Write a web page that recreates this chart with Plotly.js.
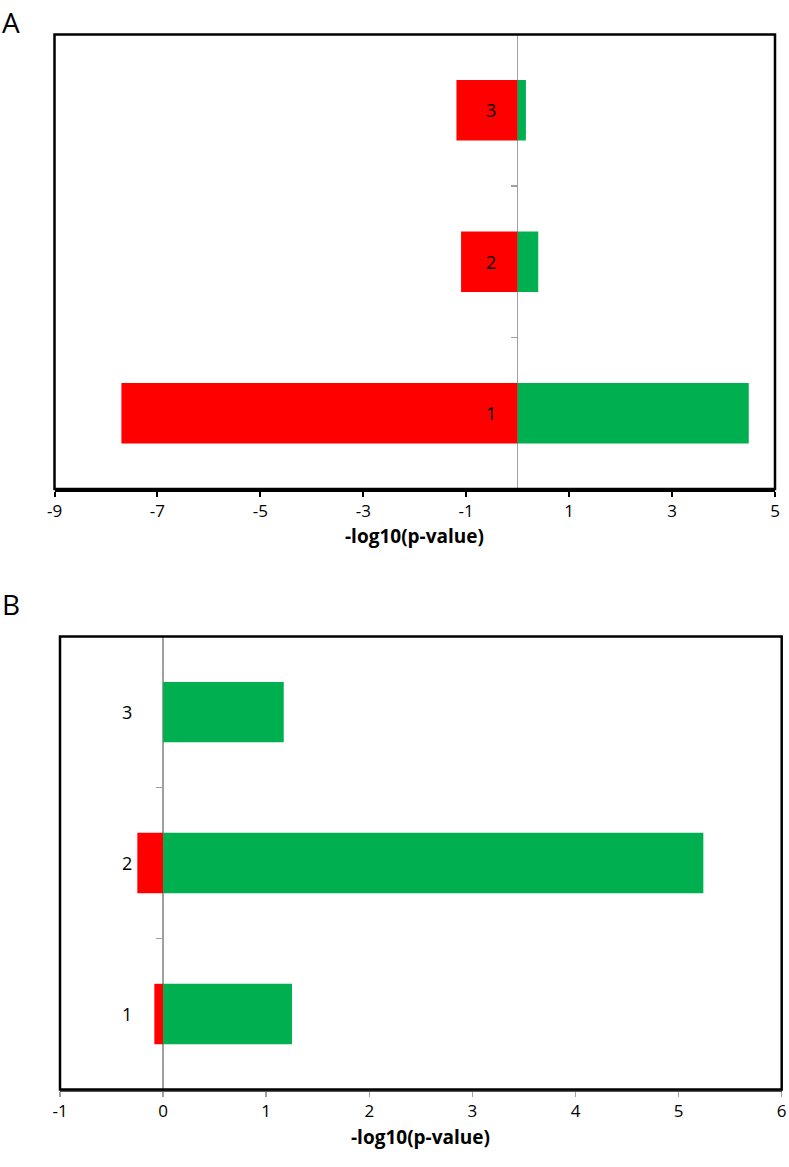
<!DOCTYPE html>
<html><head><meta charset="utf-8">
<script src="https://cdn.plot.ly/plotly-3.0.1.min.js"></script>
<style>html,body{margin:0;padding:0;background:#fff}#chart{width:789px;height:1167px}</style>
</head><body><div id="chart"></div>
<script>
// Data
const categories = ['1', '2', '3'];
const aNegative = [-7.7, -1.1, -1.19];
const aPositive = [4.49, 0.4, 0.16];
const bNegative = [-0.085, -0.25, 0];
const bPositive = [1.25, 5.24, 1.17];
const aTicks = [-9, -7, -5, -3, -1, 1, 3, 5];
const bTicks = [-1, 0, 1, 2, 3, 4, 5, 6];
const xTitle = '-log10(p-value)';
const panelLabels = ['A', 'B'];

const RED = '#FF0000', GREEN = '#00B050', GRAY = '#A0A0A0';
const FONT = '"Open Sans", "Liberation Sans", sans-serif';
const W = 789, H = 1167;

const aRange = [-9, 5], bRange = [-1, 6];
const aDom = {x: [54.5 / W, 775 / W], y: [1 - 489 / H, 1 - 34.5 / H]};
const bDom = {x: [60 / W, 781.7 / W], y: [1 - 1089.5 / H, 1 - 636.6 / H]};
function zeroPos(dom, r) { return dom.x[0] + (0 - r[0]) / (r[1] - r[0]) * (dom.x[1] - dom.x[0]); }

const bar = (x, color, xa, ya) => ({
  type: 'bar', orientation: 'h', y: categories, x: x, width: 0.4,
  marker: {color: color, line: {width: 0}}, xaxis: xa, yaxis: ya,
  showlegend: false, hoverinfo: 'x'
});

const traces = [
  bar(aNegative, RED, 'x', 'y'),
  bar(aPositive, GREEN, 'x', 'y'),
  bar(bNegative, RED, 'x2', 'y2'),
  bar(bPositive, GREEN, 'x2', 'y2')
];

const tickFont = {family: FONT, size: 17, color: '#000'};
const titleFont = {family: FONT, size: 19, color: '#000', weight: 'bold'};

const catLabels = (xa, ya, shift) => categories.map((c, i) => ({
  text: c, xref: xa, yref: ya, x: 0, y: i, xanchor: 'right', yanchor: 'middle',
  xshift: shift, showarrow: false, font: {family: FONT, size: 18, color: '#000'}
}));
const axisTitle = (xa, ya, shift) => ({
  text: xTitle, xref: xa + ' domain', yref: ya + ' domain', x: 0.5, y: 0,
  xanchor: 'center', yanchor: 'middle', yshift: shift, showarrow: false, font: titleFont
});

const layout = {
  width: W, height: H,
  margin: {l: 0, r: 0, t: 0, b: 0},
  paper_bgcolor: '#fff', plot_bgcolor: '#fff',
  barmode: 'relative',
  font: {family: FONT},
  xaxis: {
    domain: aDom.x, anchor: 'y', range: aRange, tickmode: 'array', tickvals: aTicks,
    ticktext: aTicks.map(String),
    showgrid: false, zeroline: true, zerolinecolor: GRAY, zerolinewidth: 1.5,
    showline: true, linecolor: '#000', linewidth: 2.5,
    ticks: 'outside', ticklen: 5, tickwidth: 2, tickcolor: '#000',
    tickfont: tickFont
  },
  yaxis: {
    domain: aDom.y, anchor: 'free', position: zeroPos(aDom, aRange),
    type: 'category', categoryorder: 'array', categoryarray: categories, range: [-0.5, 2.5],
    showgrid: false, zeroline: false, showline: false, showticklabels: false,
    ticks: 'outside', tickson: 'boundaries', ticklen: 7, tickwidth: 1.5, tickcolor: GRAY
  },
  xaxis2: {
    domain: bDom.x, anchor: 'y2', range: bRange, tickmode: 'array', tickvals: bTicks,
    ticktext: bTicks.map(String),
    showgrid: false, zeroline: true, zerolinecolor: GRAY, zerolinewidth: 1.5,
    showline: true, linecolor: '#555', linewidth: 2.5,
    ticks: 'outside', ticklen: 5, tickwidth: 1.5, tickcolor: GRAY,
    tickfont: tickFont
  },
  yaxis2: {
    domain: bDom.y, anchor: 'free', position: zeroPos(bDom, bRange),
    type: 'category', categoryorder: 'array', categoryarray: categories, range: [-0.5, 2.5],
    showgrid: false, zeroline: false, showline: false, showticklabels: false,
    ticks: 'outside', tickson: 'boundaries', ticklen: 7, tickwidth: 1.5, tickcolor: GRAY
  },
  shapes: [
    {type: 'rect', xref: 'x domain', yref: 'y domain', x0: 0, x1: 1, y0: 0, y1: 1,
     line: {color: '#000', width: 2.5}, layer: 'above'},
    {type: 'rect', xref: 'x2 domain', yref: 'y2 domain', x0: 0, x1: 1, y0: 0, y1: 1,
     line: {color: '#000', width: 2.5}, layer: 'above'}
  ],
  annotations: [
    {text: panelLabels[0], xref: 'paper', yref: 'paper', x: 0, y: 1 - 1 / H,
     xanchor: 'left', yanchor: 'top', showarrow: false,
     font: {family: FONT, size: 28, color: '#000'}},
    {text: panelLabels[1], xref: 'paper', yref: 'paper', x: 0, y: 1 - 583 / H,
     xanchor: 'left', yanchor: 'top', showarrow: false,
     font: {family: FONT, size: 28, color: '#000'}},
    axisTitle('x', 'y', -47),
    axisTitle('x2', 'y2', -47)
  ].concat(catLabels('x', 'y', -20), catLabels('x2', 'y2', -29))
};

Plotly.newPlot('chart', traces, layout, {staticPlot: true, displayModeBar: false});
</script></body></html>
